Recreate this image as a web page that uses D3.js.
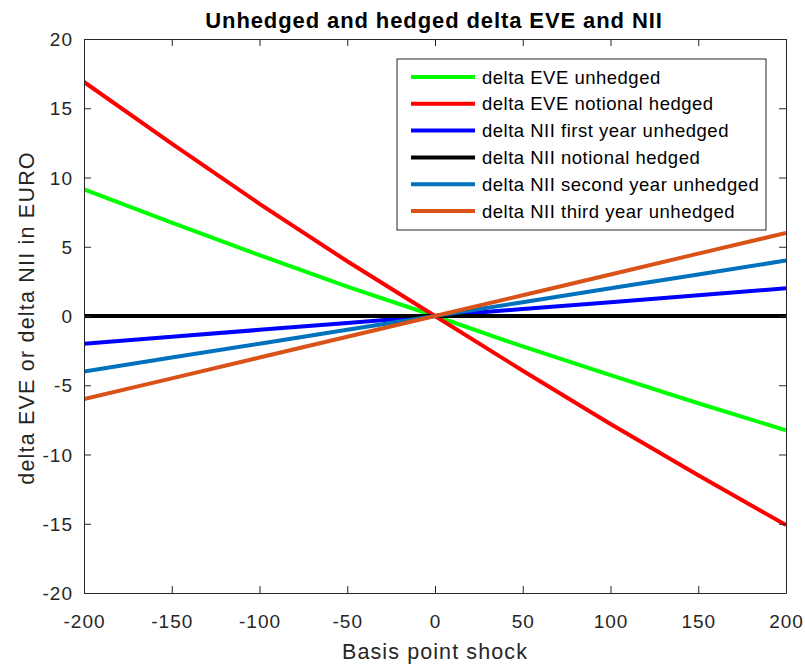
<!DOCTYPE html>
<html>
<head>
<meta charset="utf-8">
<script src="https://cdn.jsdelivr.net/npm/d3@7/dist/d3.min.js"></script>
<style>
  body { margin: 0; background: #fff; }
  svg { display: block; font-family: "Liberation Sans", Arial, Helvetica, sans-serif; }
</style>
</head>
<body>
<svg id="chart" width="805" height="665"></svg>
<script>
// ---- data ----
const shocks = [-200, -150, -100, -50, 0, 50, 100, 150, 200];
const eveUnhedged       = [9.15, 6.75, 4.40, 2.12, 0, -2.20, -4.27, -6.30, -8.25];
const eveNotionalHedged = [16.9, 12.45, 8.10, 3.95, 0, -3.95, -7.80, -11.5, -15.1];
const niiFirstYear      = [-2, -1.5, -1, -0.5, 0, 0.5, 1, 1.5, 2];
const niiNotionalHedged = [0, 0, 0, 0, 0, 0, 0, 0, 0];
const niiSecondYear     = [-4, -3, -2, -1, 0, 1, 2, 3, 4];
const niiThirdYear      = [-6, -4.5, -3, -1.5, 0, 1.5, 3, 4.5, 6];
const seriesNames = [
  "delta EVE unhedged",
  "delta EVE notional hedged",
  "delta NII first year unhedged",
  "delta NII notional hedged",
  "delta NII second year unhedged",
  "delta NII third year unhedged"
];
const seriesColors = ["#00ff00", "#ff0000", "#0000ff", "#000000", "#0072bd", "#d95319"];
const xTicks = [-200, -150, -100, -50, 0, 50, 100, 150, 200];
const yTicks = [-20, -15, -10, -5, 0, 5, 10, 15, 20];
const titleText = "Unhedged and hedged delta EVE and NII";
const xLabel = "Basis point shock";
const yLabel = "delta EVE or delta NII in EURO";

const seriesValues = [eveUnhedged, eveNotionalHedged, niiFirstYear, niiNotionalHedged, niiSecondYear, niiThirdYear];

// ---- layout ----
const L = 84, R = 786, T = 39, B = 593;
const axisColor = "#262626";
const svg = d3.select("#chart");

const x = d3.scaleLinear().domain([-200, 200]).range([L, R]);
const y = d3.scaleLinear().domain([-20, 20]).range([B, T]);

svg.append("rect").attr("x", L).attr("y", T).attr("width", R - L).attr("height", B - T).attr("fill", "#fff");

svg.append("clipPath").attr("id", "clip").append("rect")
  .attr("x", L).attr("y", T).attr("width", R - L).attr("height", B - T);

const line = d3.line().x((d, i) => x(shocks[i])).y(d => y(d));
const gLines = svg.append("g").attr("clip-path", "url(#clip)");
seriesValues.forEach((vals, k) => {
  gLines.append("path")
    .datum(vals)
    .attr("d", line)
    .attr("fill", "none")
    .attr("stroke", seriesColors[k])
    .attr("stroke-width", 4);
});

// axes (MATLAB style: ticks inward on all sides, box)
const tickLen = 7;
const fontTick = 19;
const fmt = d => String(d);
const gx = svg.append("g").attr("transform", `translate(0,${B})`)
  .call(d3.axisBottom(x).tickValues(xTicks).tickFormat(fmt).tickSizeInner(-tickLen).tickSizeOuter(0).tickPadding(tickLen + 15));
const gxTop = svg.append("g").attr("transform", `translate(0,${T})`)
  .call(d3.axisTop(x).tickValues(xTicks).tickSizeInner(-tickLen).tickSizeOuter(0).tickFormat(""));
const gy = svg.append("g").attr("transform", `translate(${L},0)`)
  .call(d3.axisLeft(y).tickValues(yTicks).tickFormat(fmt).tickSizeInner(-tickLen).tickSizeOuter(0).tickPadding(tickLen + 4));
const gyRight = svg.append("g").attr("transform", `translate(${R},0)`)
  .call(d3.axisRight(y).tickValues(yTicks).tickSizeInner(-tickLen).tickSizeOuter(0).tickFormat(""));

[gx, gxTop, gy, gyRight].forEach(g => {
  g.select(".domain").attr("stroke", axisColor).attr("stroke-width", 1);
  g.selectAll(".tick line").attr("stroke", axisColor).attr("stroke-width", 1);
  g.selectAll(".tick text")
    .attr("fill", axisColor)
    .attr("font-size", fontTick)
    .attr("font-family", "Liberation Sans, Arial, sans-serif")
    .style("letter-spacing", "1px");
});
gy.selectAll(".tick text").attr("dy", "0.35em");

// title
svg.append("text")
  .attr("x", (L + R) / 2 - 1).attr("y", 28)
  .attr("text-anchor", "middle")
  .attr("font-size", 22).attr("font-weight", "bold")
  .style("letter-spacing", "0.9px")
  .attr("fill", "#000")
  .text(titleText);

// x label
svg.append("text")
  .attr("x", (L + R) / 2).attr("y", 659)
  .attr("text-anchor", "middle")
  .attr("font-size", 21.5)
  .style("letter-spacing", "1.1px")
  .attr("fill", axisColor)
  .text(xLabel);

// y label
svg.append("text")
  .attr("transform", `translate(34,${(T + B) / 2 + 2}) rotate(-90)`)
  .attr("text-anchor", "middle")
  .attr("font-size", 21.5)
  .style("letter-spacing", "1.2px")
  .attr("fill", axisColor)
  .text(yLabel);

// legend
const lg = svg.append("g");
const lgX = 397, lgY = 59, lgW = 369, lgH = 171;
lg.append("rect").attr("x", lgX).attr("y", lgY).attr("width", lgW).attr("height", lgH)
  .attr("fill", "#fff").attr("stroke", axisColor).attr("stroke-width", 1);
seriesNames.forEach((name, k) => {
  const cy = 77 + k * 26.8;
  lg.append("line").attr("x1", 411).attr("x2", 475).attr("y1", cy).attr("y2", cy)
    .attr("stroke", seriesColors[k]).attr("stroke-width", 4);
  lg.append("text").attr("x", 482).attr("y", cy).attr("dy", "0.36em")
    .attr("font-size", 18.5)
    .style("letter-spacing", "0.5px")
    .attr("fill", "#000")
    .text(name);
});
</script>
</body>
</html>
